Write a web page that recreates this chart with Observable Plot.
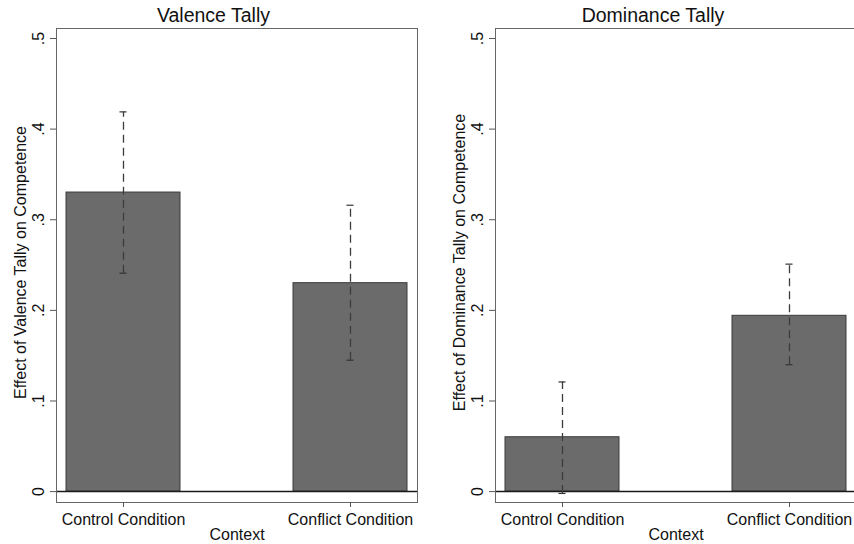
<!DOCTYPE html>
<html>
<head>
<meta charset="utf-8">
<script src="https://cdn.jsdelivr.net/npm/d3@7"></script>
<script src="https://cdn.jsdelivr.net/npm/@observablehq/plot@0.6"></script>
<style>
  html, body { margin: 0; padding: 0; background: #fff; overflow: hidden; }
  #wrap { position: relative; width: 854px; height: 544px; overflow: hidden; font-family: "Liberation Sans", Arial, sans-serif; }
  .title { position: absolute; top: 5px; line-height: 20px; font-size: 19.5px; text-align: center; color: #111; }
  .panel { position: absolute; top: 26px; }
  .panel svg { max-width: none !important; display: block; }
</style>
</head>
<body>
<div id="wrap">
  <div class="title" style="left:0;width:427px">Valence Tally</div>
  <div class="title" style="left:430px;width:446px">Dominance Tally</div>
  <div class="panel" id="left" style="left:0;width:430px"></div>
  <div class="panel" id="right" style="left:430px;width:439px"></div>
</div>
<script>
const contexts = ["Control Condition", "Conflict Condition"];
const valenceEffect = [0.330, 0.230];
const valenceLo = [0.241, 0.145];
const valenceHi = [0.419, 0.316];
const dominanceEffect = [0.060, 0.194];
const dominanceLo = [-0.002, 0.140];
const dominanceHi = [0.121, 0.251];
const yTicks = [0, 0.1, 0.2, 0.3, 0.4, 0.5];
const xLabel = "Context";
const valenceLabel = "Effect of Valence Tally on Competence";
const dominanceLabel = "Effect of Dominance Tally on Competence";

const fmt = d => d === 0 ? "0" : d3.format(".1f")(d).replace(/^0/, "");

function panel(values, lo, hi, yLabel, marginLeft) {
  const data = contexts.map((c, i) => ({context: c, value: values[i], lo: lo[i], hi: hi[i]}));
  const frameW = 361;
  const bw = frameW / (2 - 0.5 + 2 * 0.042) * 0.5;
  const capInset = (bw - 7) / 2;
  return Plot.plot({
    width: marginLeft + frameW + 13,
    height: 518,
    marginTop: 2,
    marginBottom: 42,
    marginLeft,
    marginRight: 13,
    style: {fontFamily: "'Liberation Sans', Arial, sans-serif", fontSize: "16px", background: "transparent", color: "#111", overflow: "visible"},
    x: {type: "band", domain: contexts, paddingInner: 0.5, paddingOuter: 0.042},
    y: {domain: [-0.012, 0.511]},
    marks: [
      Plot.barY(data, {x: "context", y: "value", fill: "#6b6b6b", stroke: "#3a3a3a", strokeWidth: 1}),
      Plot.ruleY([0], {stroke: "#1a1a1a", strokeWidth: 1.5}),
      Plot.ruleX(data, {x: "context", y1: "lo", y2: "hi", stroke: "#3c3c3c", strokeWidth: 1.3, strokeDasharray: "8,5"}),
      Plot.tickY(data, {x: "context", y: "lo", insetLeft: capInset, insetRight: capInset, stroke: "#333", strokeWidth: 1.2}),
      Plot.tickY(data, {x: "context", y: "hi", insetLeft: capInset, insetRight: capInset, stroke: "#333", strokeWidth: 1.2}),
      Plot.frame({stroke: "#666"}),
      Plot.axisY({ticks: yTicks, tickFormat: fmt, tickRotate: -90, tickSize: 6, tickPadding: 7, label: null, stroke: "#555"}),
      Plot.axisX({tickSize: 5, tickPadding: 6, label: null, stroke: "#555"}),
      Plot.text([yLabel], {frameAnchor: "left", dx: -36, dy: -3, rotate: -90, textAnchor: "middle", text: d => d}),
      Plot.text([xLabel], {frameAnchor: "bottom", dy: 37, lineAnchor: "bottom", text: d => d})
    ]
  });
}

document.getElementById("left").append(panel(valenceEffect, valenceLo, valenceHi, valenceLabel, 56));
document.getElementById("right").append(panel(dominanceEffect, dominanceLo, dominanceHi, dominanceLabel, 65));
</script>
</body>
</html>
